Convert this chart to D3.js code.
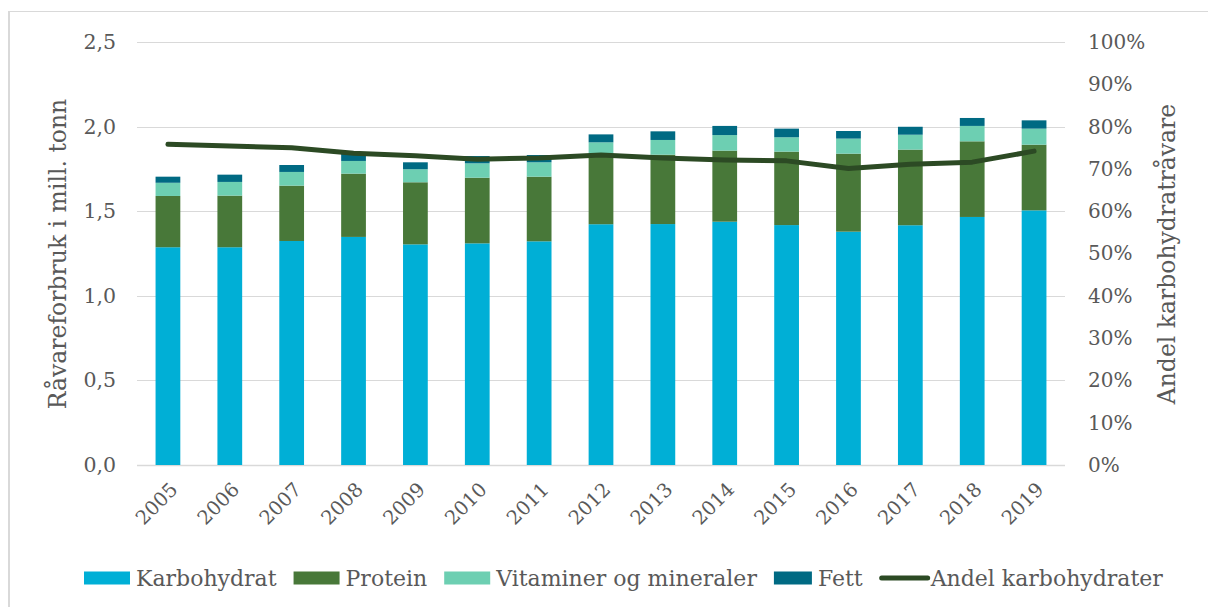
<!DOCTYPE html>
<html>
<head>
<meta charset="utf-8">
<script src="https://cdn.jsdelivr.net/npm/d3@7"></script>
<style>
  html, body { margin: 0; padding: 0; background: #fff; }
  svg { display: block; }
  text { font-family: "DejaVu Serif", "Liberation Serif", serif; fill: #595959; }
</style>
</head>
<body>
<svg id="chart" width="1208" height="607"></svg>
<script>
// ---- data ----
const years = ["2005","2006","2007","2008","2009","2010","2011","2012","2013","2014","2015","2016","2017","2018","2019"];
const karbohydrat = [1.287, 1.287, 1.324, 1.348, 1.304, 1.310, 1.322, 1.423, 1.424, 1.438, 1.418, 1.379, 1.417, 1.466, 1.505];
const protein     = [0.303, 0.305, 0.327, 0.374, 0.367, 0.388, 0.382, 0.410, 0.410, 0.420, 0.434, 0.461, 0.447, 0.447, 0.388];
const vitaminer   = [0.078, 0.081, 0.081, 0.075, 0.077, 0.085, 0.085, 0.074, 0.087, 0.092, 0.085, 0.089, 0.088, 0.091, 0.095];
const fett        = [0.036, 0.043, 0.041, 0.045, 0.041, 0.043, 0.043, 0.047, 0.051, 0.054, 0.051, 0.045, 0.047, 0.047, 0.049];
const andel       = [0.758, 0.754, 0.750, 0.737, 0.731, 0.723, 0.726, 0.733, 0.726, 0.721, 0.719, 0.701, 0.711, 0.716, 0.742];
const leftTicks  = [0, 0.5, 1.0, 1.5, 2.0, 2.5];
const rightTicks = [0, 0.1, 0.2, 0.3, 0.4, 0.5, 0.6, 0.7, 0.8, 0.9, 1.0];
const seriesNames = ["Karbohydrat", "Protein", "Vitaminer og mineraler", "Fett"];
const lineName = "Andel karbohydrater";
const leftTitle = "Råvareforbruk i mill. tonn";
const rightTitle = "Andel karbohydratråvare";

const colors = ["#00afd6", "#487839", "#6dcfb2", "#006a83"];
const lineColor = "#2c4a24";

// ---- layout ----
const svg = d3.select("#chart");
const m = { left: 137, right: 1065, top: 42, bottom: 465 };

// frame
svg.append("line").attr("x1", 9).attr("x2", 1208).attr("y1", 11.5).attr("y2", 11.5)
  .attr("stroke", "#d9d9d9").attr("stroke-width", 1);
svg.append("line").attr("x1", 9).attr("x2", 9).attr("y1", 11).attr("y2", 607)
  .attr("stroke", "#d9d9d9").attr("stroke-width", 2);

const x = d3.scaleBand().domain(years).range([m.left, m.right]).paddingInner(0.6).paddingOuter(0.3);
const y = d3.scaleLinear().domain([0, 2.5]).range([m.bottom, m.top]);
const y2 = d3.scaleLinear().domain([0, 1]).range([m.bottom, m.top]);

// gridlines
svg.append("g").selectAll("line").data(leftTicks).join("line")
  .attr("x1", m.left).attr("x2", m.right)
  .attr("y1", d => Math.round(y(d)) + 0.5).attr("y2", d => Math.round(y(d)) + 0.5)
  .attr("stroke", "#d9d9d9").attr("stroke-width", d => d === 0 ? 1.5 : 1);

// left axis
const fmtL = d3.format(".1f");
const leftAxis = d3.axisLeft(y).tickValues(leftTicks).tickSize(0).tickPadding(21)
  .tickFormat(d => fmtL(d).replace(".", ","));
const gL = svg.append("g").attr("transform", `translate(${m.left},0)`).call(leftAxis);
gL.select(".domain").remove();
gL.selectAll("text").style("font-size", "20.5px").style("font-family", "'DejaVu Serif', serif").attr("fill", "#595959");

// right axis
const rightAxis = d3.axisRight(y2).tickValues(rightTicks).tickSize(0).tickPadding(23)
  .tickFormat(d3.format(".0%"));
const gR = svg.append("g").attr("transform", `translate(${m.right},0)`).call(rightAxis);
gR.select(".domain").remove();
gR.selectAll("text").style("font-size", "20px").style("font-family", "'DejaVu Serif', serif").attr("fill", "#595959");

// stacked bars
const rows = years.map((yr, i) => ({ year: yr, k: karbohydrat[i], p: protein[i], v: vitaminer[i], f: fett[i] }));
const stack = d3.stack().keys(["k", "p", "v", "f"])(rows);
svg.append("g").selectAll("g").data(stack).join("g")
  .attr("fill", (d, i) => colors[i])
  .selectAll("rect").data(d => d).join("rect")
  .attr("x", d => x(d.data.year))
  .attr("width", x.bandwidth())
  .attr("y", d => y(d[1]))
  .attr("height", d => y(d[0]) - y(d[1]));

// line
const line = d3.line().x((d, i) => x(years[i]) + x.bandwidth() / 2).y(d => y2(d));
svg.append("path").datum(andel).attr("d", line)
  .attr("fill", "none").attr("stroke", lineColor).attr("stroke-width", 5)
  .attr("stroke-linecap", "round").attr("stroke-linejoin", "round");

// x axis labels
const gX = svg.append("g");
years.forEach(yr => {
  const cx = x(yr) + x.bandwidth() / 2;
  gX.append("text")
    .attr("transform", `translate(${cx + 6},${m.bottom + 21}) rotate(-45)`)
    .attr("text-anchor", "end")
    .attr("dy", "0.35em")
    .style("font-size", "19.5px")
    .text(yr);
});

// axis titles
svg.append("text").attr("transform", `translate(66,254) rotate(-90)`)
  .attr("text-anchor", "middle").style("font-size", "23.5px").text(leftTitle);
svg.append("text").attr("transform", `translate(1175,254) rotate(-90)`)
  .attr("text-anchor", "middle").style("font-size", "23.5px").text(rightTitle);

// legend
const leg = svg.append("g");
let lx = 84;
const ly = 578;
seriesNames.forEach((name, i) => {
  const w = i === 3 ? 38 : 46;
  leg.append("rect").attr("x", lx).attr("y", ly - 6.5).attr("width", w).attr("height", 13).attr("fill", colors[i]);
  lx += w + 6;
  const t = leg.append("text").attr("x", lx).attr("y", ly).attr("dy", "0.35em").style("font-size", "22px").text(name);
  lx += t.node().getComputedTextLength() + 17;
});
leg.append("line").attr("x1", lx + 2).attr("x2", lx + 48).attr("y1", ly).attr("y2", ly)
  .attr("stroke", lineColor).attr("stroke-width", 5).attr("stroke-linecap", "round");
lx += 51;
leg.append("text").attr("x", lx).attr("y", ly).attr("dy", "0.35em").style("font-size", "22px").text(lineName);
</script>
</body>
</html>
